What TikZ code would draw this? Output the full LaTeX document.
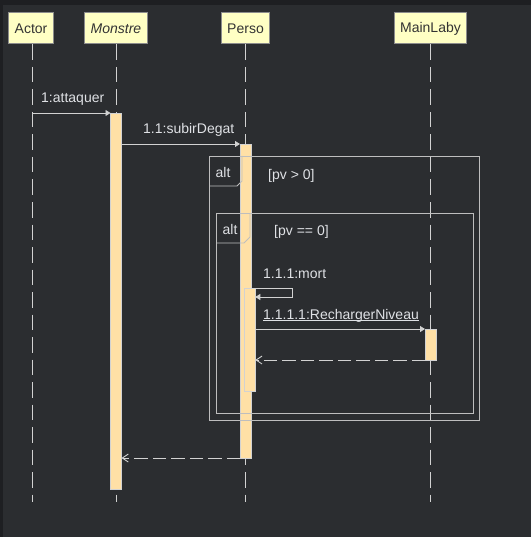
\documentclass[tikz,border=0pt]{standalone}
\usepackage{fontspec}
\setmainfont{Liberation Sans}
\usetikzlibrary{positioning,arrows.meta}

\definecolor{bgdark}{HTML}{2B2D30}
\definecolor{bgedge}{HTML}{1E1F22}
\definecolor{linegray}{HTML}{D2D2D2}
\definecolor{fraggray}{HTML}{BEBEBE}
\definecolor{textgray}{HTML}{DFE1E5}
\definecolor{boxfill}{HTML}{FFFFC4}
\definecolor{boxline}{HTML}{8C8C8C}
\definecolor{barfill}{HTML}{FFE0A6}

\begin{document}
\begin{tikzpicture}[x=1pt,y=-1pt,
    every node/.style={font=\fontsize{14}{16}\selectfont},
    party/.style={draw=boxline, fill=boxfill, text=black!80, line width=1pt,
        minimum height=31pt, inner xsep=6pt, inner ysep=0pt},
    actbar/.style={draw=linegray, fill=barfill, line width=0.9pt, outer sep=0pt,
        minimum width=11pt, inner sep=0pt, anchor=north},
    lifeline/.style={draw=linegray, line width=0.9pt, dash pattern=on 15.5pt off 7pt},
    msg/.style={draw=linegray, line width=0.9pt, -{Triangle[length=5pt,width=6pt]}},
    reply/.style={draw=linegray, line width=0.9pt, dash pattern=on 13.5pt off 5pt,
        -{Straight Barb[length=6pt,width=8pt]}},
    lbl/.style={text=textgray, anchor=base west, inner sep=0pt},
    frag/.style={draw=fraggray, line width=0.9pt}]

    % background
    \fill[bgdark] (0,0) rectangle (531,537);
    \fill[bgedge] (0,0) rectangle (531,5);
    \fill[bgedge] (0,0) rectangle (3,537);
    \useasboundingbox (0,0) rectangle (531,537);

    % participants
    \node[party] (actor) at (31,28.5) {Actor};
    \node[party] (monstre) at (116,28.5) {\itshape Monstre};
    \node[party] (perso) at (245.5,28.5) {Perso};
    \node[party] (mainlaby) at (430.5,28.5) {MainLaby};

    \coordinate (actorEnd) at (32,502);
    \coordinate (monstreEnd) at (116,502);
    \coordinate (persoEnd) at (245.5,502);
    \coordinate (mainlabyEnd) at (430.5,502);

    \draw[lifeline] (actor.south -| actorEnd) -- (actorEnd);
    \draw[lifeline] (monstre.south) -- (monstreEnd);
    \draw[lifeline] (perso.south) -- (persoEnd);
    \draw[lifeline] (mainlaby.south) -- (mainlabyEnd);

    % activations
    \node[actbar, minimum height=376pt] (monstreBar) at (116,113) {};
    \node[actbar, minimum height=314pt] (persoBar) at (245.5,144) {};
    \node[actbar, minimum height=103pt, minimum width=10.5pt] (persoBar2) at (250,288) {};
    \node[actbar, minimum height=31pt] (mainlabyBar) at (430.5,329) {};

    % fragments
    \draw[frag] (209,156) rectangle (479,420);
    \draw[frag] (209,186) -- (237,186) -- (242,181) -- (242,156);
    \node[lbl] (altOut) at (215.5,177.5) {alt};
    \node[lbl] (guardOut) at (268,179) {[pv > 0]};

    \draw[frag] (216,213) rectangle (473,413);
    \draw[frag] (216,243) -- (244,243) -- (250,237) -- (250,213);
    \node[lbl] (altIn) at (222.5,234.5) {alt};
    \node[lbl] (guardIn) at (274,235) {[pv == 0]};

    % messages
    \coordinate (attFrom) at (32,113);
    \coordinate (mortA) at (292,288);
    \coordinate (mortB) at (292,297);

    \draw[msg] (attFrom) -- (monstreBar.north west);
    \node[lbl] (attLbl) at (41,103) {1:attaquer};

    \draw[msg] (monstreBar.east |- persoBar.north) -- (persoBar.north west);
    \node[lbl] (subLbl) at (143,134) {1.1:subirDegat};

    \draw[msg] (persoBar2.north east) -- (mortA) -- (mortB) -- (persoBar2.east |- mortB);
    \node[lbl] (mortLbl) at (263,278) {1.1.1:mort};

    \draw[msg] (persoBar2.east |- mainlabyBar.north) -- (mainlabyBar.north west);
    \node[lbl] (rechLbl) at (263,319)
        {\setbox0\hbox{1.1.1.1:RechargerNiveau}\rlap{\rule[-2pt]{\wd0}{0.8pt}}\box0};

    \draw[reply] (mainlabyBar.south west) -- (persoBar2.east |- mainlabyBar.south);
    \draw[reply] (persoBar.south west) -- (monstreBar.east |- persoBar.south);
\end{tikzpicture}
\end{document}
